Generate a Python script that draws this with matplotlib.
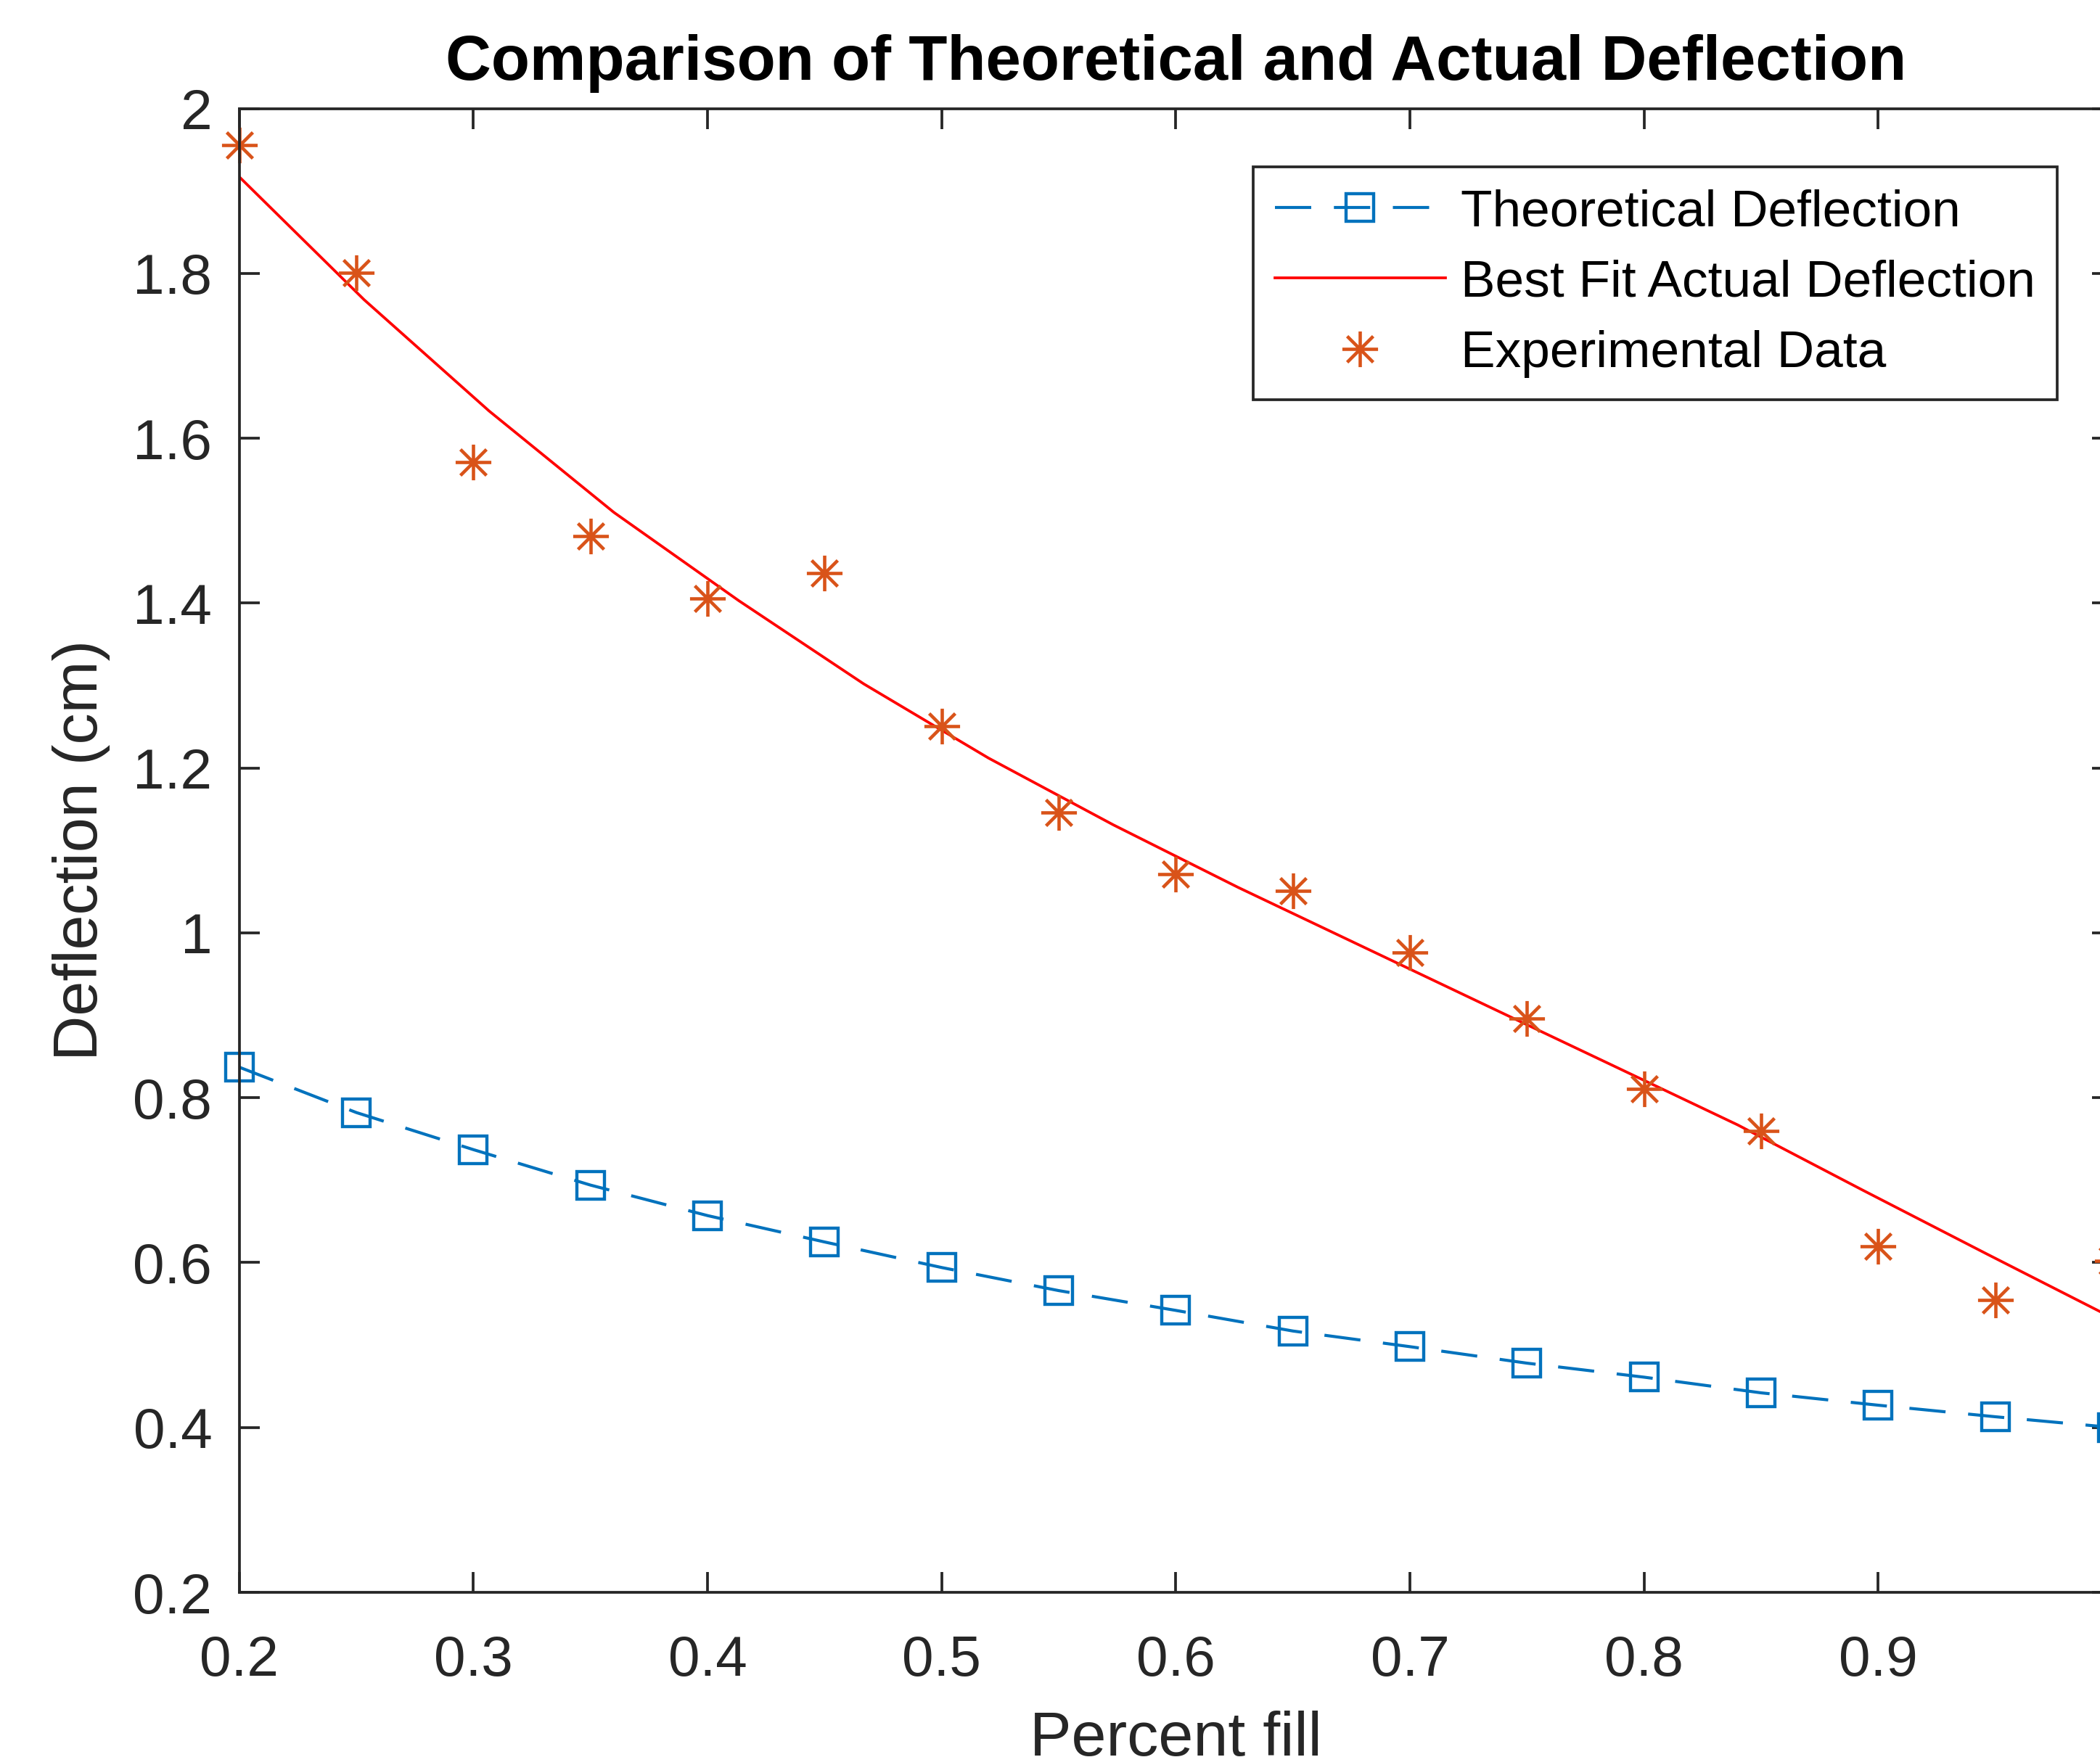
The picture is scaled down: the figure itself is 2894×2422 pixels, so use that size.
import matplotlib
matplotlib.use("Agg")
from matplotlib import pyplot as plt
from matplotlib.path import Path
from matplotlib.ticker import FormatStrFormatter

# Values
fill = [0.20, 0.25, 0.30, 0.35, 0.40, 0.45, 0.50, 0.55, 0.60,
        0.65, 0.70, 0.75, 0.80, 0.85, 0.90, 0.95, 1.00]
theory = [0.837, 0.782, 0.737, 0.694, 0.657, 0.625, 0.594, 0.566, 0.542,
          0.517, 0.498, 0.478, 0.461, 0.442, 0.427, 0.413, 0.400]
experiment = [1.956, 1.801, 1.571, 1.481, 1.406, 1.436, 1.251, 1.146, 1.071,
              1.051, 0.976, 0.896, 0.811, 0.760, 0.620, 0.555, 0.602]

fit_x = [0.2000, 0.2533, 0.3067, 0.3600, 0.4133, 0.4667, 0.5200, 0.5733,
         0.6267, 0.6800, 0.7333, 0.7867, 0.8400, 0.8933, 0.9467, 1.0000]
fit_y = [1.917, 1.768, 1.633, 1.510, 1.403, 1.302, 1.212, 1.131,
         1.055, 0.983, 0.911, 0.839, 0.767, 0.688, 0.610, 0.533]

x_ticks = [0.2, 0.3, 0.4, 0.5, 0.6, 0.7, 0.8, 0.9]
y_ticks = [0.2, 0.4, 0.6, 0.8, 1.0, 1.2, 1.4, 1.6, 1.8, 2.0]

# Colours (MATLAB defaults)
blue = "#0072BD"
orange = "#D95319"
axcol = "#262626"

plt.rcParams['font.family'] = ['Liberation Sans', 'DejaVu Sans']

# MATLAB style asterisk: + and x on top of each other
d = 0.73
star = Path([(-1, 0), (1, 0), (0, -1), (0, 1),
             (-d, -d), (d, d), (-d, d), (d, -d)],
            [Path.MOVETO, Path.LINETO] * 4)

fig = plt.figure(figsize=(2894 / 300, 2422 / 300), dpi=300)
ax = fig.add_axes([0.11396, 0.09372, 0.89191, 0.84455])

ax.plot(fill, theory, color=blue, linestyle='--', dashes=(12, 7.5), linewidth=1.0,
        marker='s', markersize=9.2, markerfacecolor='none', markeredgewidth=1.05,
        label='Theoretical Deflection', clip_on=False)
ax.plot(fit_x, fit_y, color='red', linewidth=0.9, label='Best Fit Actual Deflection')
ax.plot(fill, experiment, linestyle='none', marker=star, markersize=11.8,
        markeredgecolor=orange, markeredgewidth=1.1, label='Experimental Data',
        clip_on=False)

# Axes limits and ticks
ax.set_xlim(0.2, 1.0)
ax.set_ylim(0.2, 2.0)
ax.set_xticks(x_ticks)
ax.set_yticks(y_ticks)
ax.xaxis.set_major_formatter(FormatStrFormatter('%g'))
ax.yaxis.set_major_formatter(FormatStrFormatter('%g'))
ax.tick_params(direction='in', top=True, right=True, length=6.8, width=0.9,
               color=axcol, labelcolor=axcol, labelsize=18.8)
ax.tick_params(axis='x', pad=14)
ax.tick_params(axis='y', pad=9)
for sp in ax.spines.values():
    sp.set_color(axcol)
    sp.set_linewidth(0.9)

# Labels
ax.set_xlabel('Percent fill', fontsize=20.7, color=axcol, labelpad=7.5)
ax.set_ylabel('Deflection (cm)', fontsize=20.7, color=axcol, labelpad=7.4)
ax.set_title('Comparison of Theoretical and Actual Deflection', fontsize=20.9,
             fontweight='bold', color='black', pad=9.5)

# Legend
leg = ax.legend(loc='upper right', bbox_to_anchor=(0.9706, 0.9606), borderaxespad=0,
                fontsize=17.1, handlelength=3.3, handletextpad=0.3, borderpad=0.42,
                labelspacing=0.44, fancybox=False, framealpha=1, edgecolor=axcol)
leg.get_frame().set_linewidth(0.9)

fig.savefig('out.png', dpi=300, facecolor='white')
plt.close()
